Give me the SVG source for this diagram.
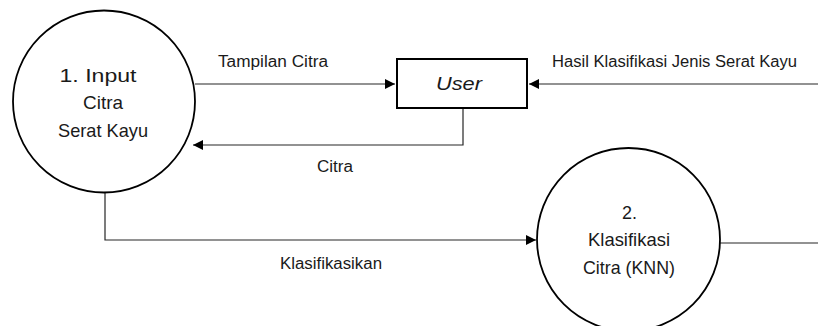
<svg xmlns="http://www.w3.org/2000/svg" width="818" height="326" viewBox="0 0 818 326">
  <style>
    .proc { fill: #ffffff; stroke: #000000; stroke-width: 1.8; }
    .ent { fill: #ffffff; stroke: #000000; stroke-width: 2; }
    .flow { fill: none; stroke: #262626; stroke-width: 1.2; }
    .t { font-family: "Liberation Sans", Arial, sans-serif; fill: #1a1a1a; }
    .node { font-size: 19px; text-anchor: middle; }
    .lbl { font-size: 16px; }
  </style>
  <defs>
    <marker id="arrow" viewBox="0 0 10 10" refX="10" refY="5" markerWidth="10" markerHeight="10" markerUnits="userSpaceOnUse" orient="auto">
      <path d="M0,0 L10,5 L0,10 Z" fill="#000000"/>
    </marker>
  </defs>

  <g id="connectors">
    <path class="flow" d="M195,84 L395,84" marker-end="url(#arrow)"/>
    <path class="flow" d="M818,84 L529,84" marker-end="url(#arrow)"/>
    <path class="flow" d="M463,109 L463,145 L193,145" marker-end="url(#arrow)"/>
    <path class="flow" d="M105,193 L105,240 L536,240" marker-end="url(#arrow)"/>
    <path class="flow" d="M720,243 L818,243"/>
    <text class="t lbl" x="218" y="67" textLength="110" lengthAdjust="spacingAndGlyphs">Tampilan Citra</text>
    <text class="t lbl" x="552" y="67" textLength="245" lengthAdjust="spacingAndGlyphs">Hasil Klasifikasi Jenis Serat Kayu</text>
    <text class="t lbl" x="317" y="172" textLength="36" lengthAdjust="spacingAndGlyphs">Citra</text>
    <text class="t lbl" x="280" y="269" textLength="102" lengthAdjust="spacingAndGlyphs">Klasifikasikan</text>
  </g>

  <g id="proc1">
    <circle class="proc" cx="104" cy="101.5" r="91"/>
    <text class="t node" x="98" y="82" textLength="77" lengthAdjust="spacingAndGlyphs">1. Input</text>
    <text class="t node" x="103" y="109" textLength="40" lengthAdjust="spacingAndGlyphs">Citra</text>
    <text class="t node" x="103" y="137" textLength="90" lengthAdjust="spacingAndGlyphs">Serat Kayu</text>
  </g>

  <g id="user">
    <rect class="ent" x="397" y="59" width="130" height="49"/>
    <text class="t node" x="459" y="90" font-style="italic" textLength="46" lengthAdjust="spacingAndGlyphs">User</text>
  </g>

  <g id="proc2">
    <circle class="proc" cx="628.5" cy="239.5" r="91.5"/>
    <text class="t node" x="629.5" y="219" textLength="15" lengthAdjust="spacingAndGlyphs">2.</text>
    <text class="t node" x="629" y="246" textLength="82" lengthAdjust="spacingAndGlyphs">Klasifikasi</text>
    <text class="t node" x="629" y="274" textLength="92" lengthAdjust="spacingAndGlyphs">Citra (KNN)</text>
  </g>
</svg>
